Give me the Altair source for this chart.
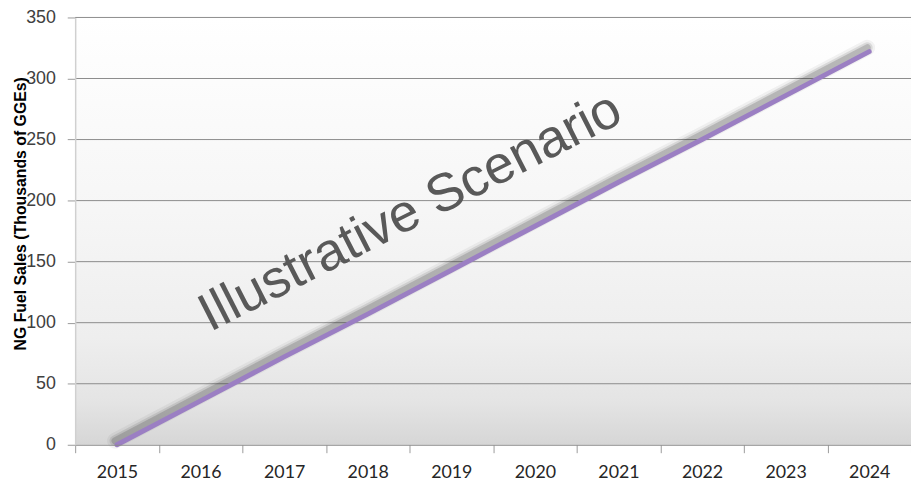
import altair as alt
import pandas as pd

# ---- data ----
years = ["2015", "2016", "2017", "2018", "2019", "2020", "2021", "2022", "2023", "2024"]
sales = [0, 36, 72, 107, 143, 179, 215, 250, 286, 322]
y_ticks = [0, 50, 100, 150, 200, 250, 300, 350]
watermark = ["Illustrative Scenario"]

df = pd.DataFrame({"year": years, "sales": sales})
grid_df = pd.DataFrame({"sales": y_ticks[1:]})
wm = pd.DataFrame({"label": watermark})
bg = pd.DataFrame({"k": [1]})

W, H = 845, 432

x_enc = alt.X(
    "year:O",
    bandPosition=0.5,
    scale=alt.Scale(type="band", paddingInner=0, paddingOuter=0),
    axis=alt.Axis(
        title=None,
        labelAngle=0,
        tickBand="extent",
        tickSize=8,
        tickColor="#9a9a9a",
        domainColor="#8a8a8a",
        labelFont="Lato",
        labelFontSize=18,
        labelColor="#262626",
        labelPadding=11,
        grid=False,
        zindex=1,
    ),
)
y_enc = alt.Y(
    "sales:Q",
    scale=alt.Scale(domain=[0, 350], nice=False),
    axis=alt.Axis(
        values=y_ticks,
        title="NG Fuel Sales (Thousands of GGEs)",
        titleFont="Liberation Sans",
        titleFontSize=16,
        titleFontWeight="bold",
        titleColor="#000000",
        titleAngle=270,
        titleX=-55,
        titleY=198,
        titleAlign="center",
        titleBaseline="middle",
        grid=False,
        domainColor="#d0d0d0",
        domainWidth=1.5,
        tickColor="#9a9a9a",
        tickSize=8,
        labelPadding=12,
        labelFont="Liberation Sans",
        labelFontSize=18,
        labelColor="#404040",
        zindex=1,
    ),
)

gradient = alt.LinearGradient(
    gradient="linear",
    x1=0, y1=0, x2=0, y2=1,
    stops=[
        alt.GradientStop(color="#ffffff", offset=0),
        alt.GradientStop(color="#f6f6f6", offset=0.45),
        alt.GradientStop(color="#eeeeee", offset=0.75),
        alt.GradientStop(color="#e4e4e4", offset=0.9),
        alt.GradientStop(color="#d6d6d6", offset=1),
    ],
)

background = alt.Chart(bg).mark_rect(color=gradient).encode(
    x=alt.value(0), x2=alt.value(W), y=alt.value(0), y2=alt.value(H)
)

gridlines = alt.Chart(grid_df).mark_rule(color="#8c8c8c", strokeWidth=1).encode(y=y_enc)

base = alt.Chart(df).encode(x=x_enc, y=y_enc)

shadow1 = base.mark_line(color="#303030", strokeWidth=16, opacity=0.06, xOffset=-2, yOffset=-4, strokeCap="round")
shadow2 = base.mark_line(color="#303030", strokeWidth=11, opacity=0.12, xOffset=-2, yOffset=-4, strokeCap="round")
shadow3 = base.mark_line(color="#303030", strokeWidth=7, opacity=0.2, xOffset=-2, yOffset=-4, strokeCap="round")
line = base.mark_line(color="#9b7fc3", strokeWidth=5, strokeCap="round")

text = alt.Chart(wm).mark_text(
    angle=333,
    fontSize=54,
    font="Liberation Sans",
    color="#595959",
    align="center",
    baseline="middle",
).encode(text="label:N", x=alt.value(339), y=alt.value(197))

chart = (
    alt.layer(background, gridlines, shadow1, shadow2, shadow3, line, text)
    .properties(
        width=W,
        height=H,
        autosize=alt.AutoSizeParams(type="none"),
        padding={"left": 76, "top": 15, "right": 0, "bottom": 37},
        background="#ffffff",
    )
    .configure_view(stroke=None)
)

chart.save("out.html", embed_options={"renderer": "svg", "actions": False})
